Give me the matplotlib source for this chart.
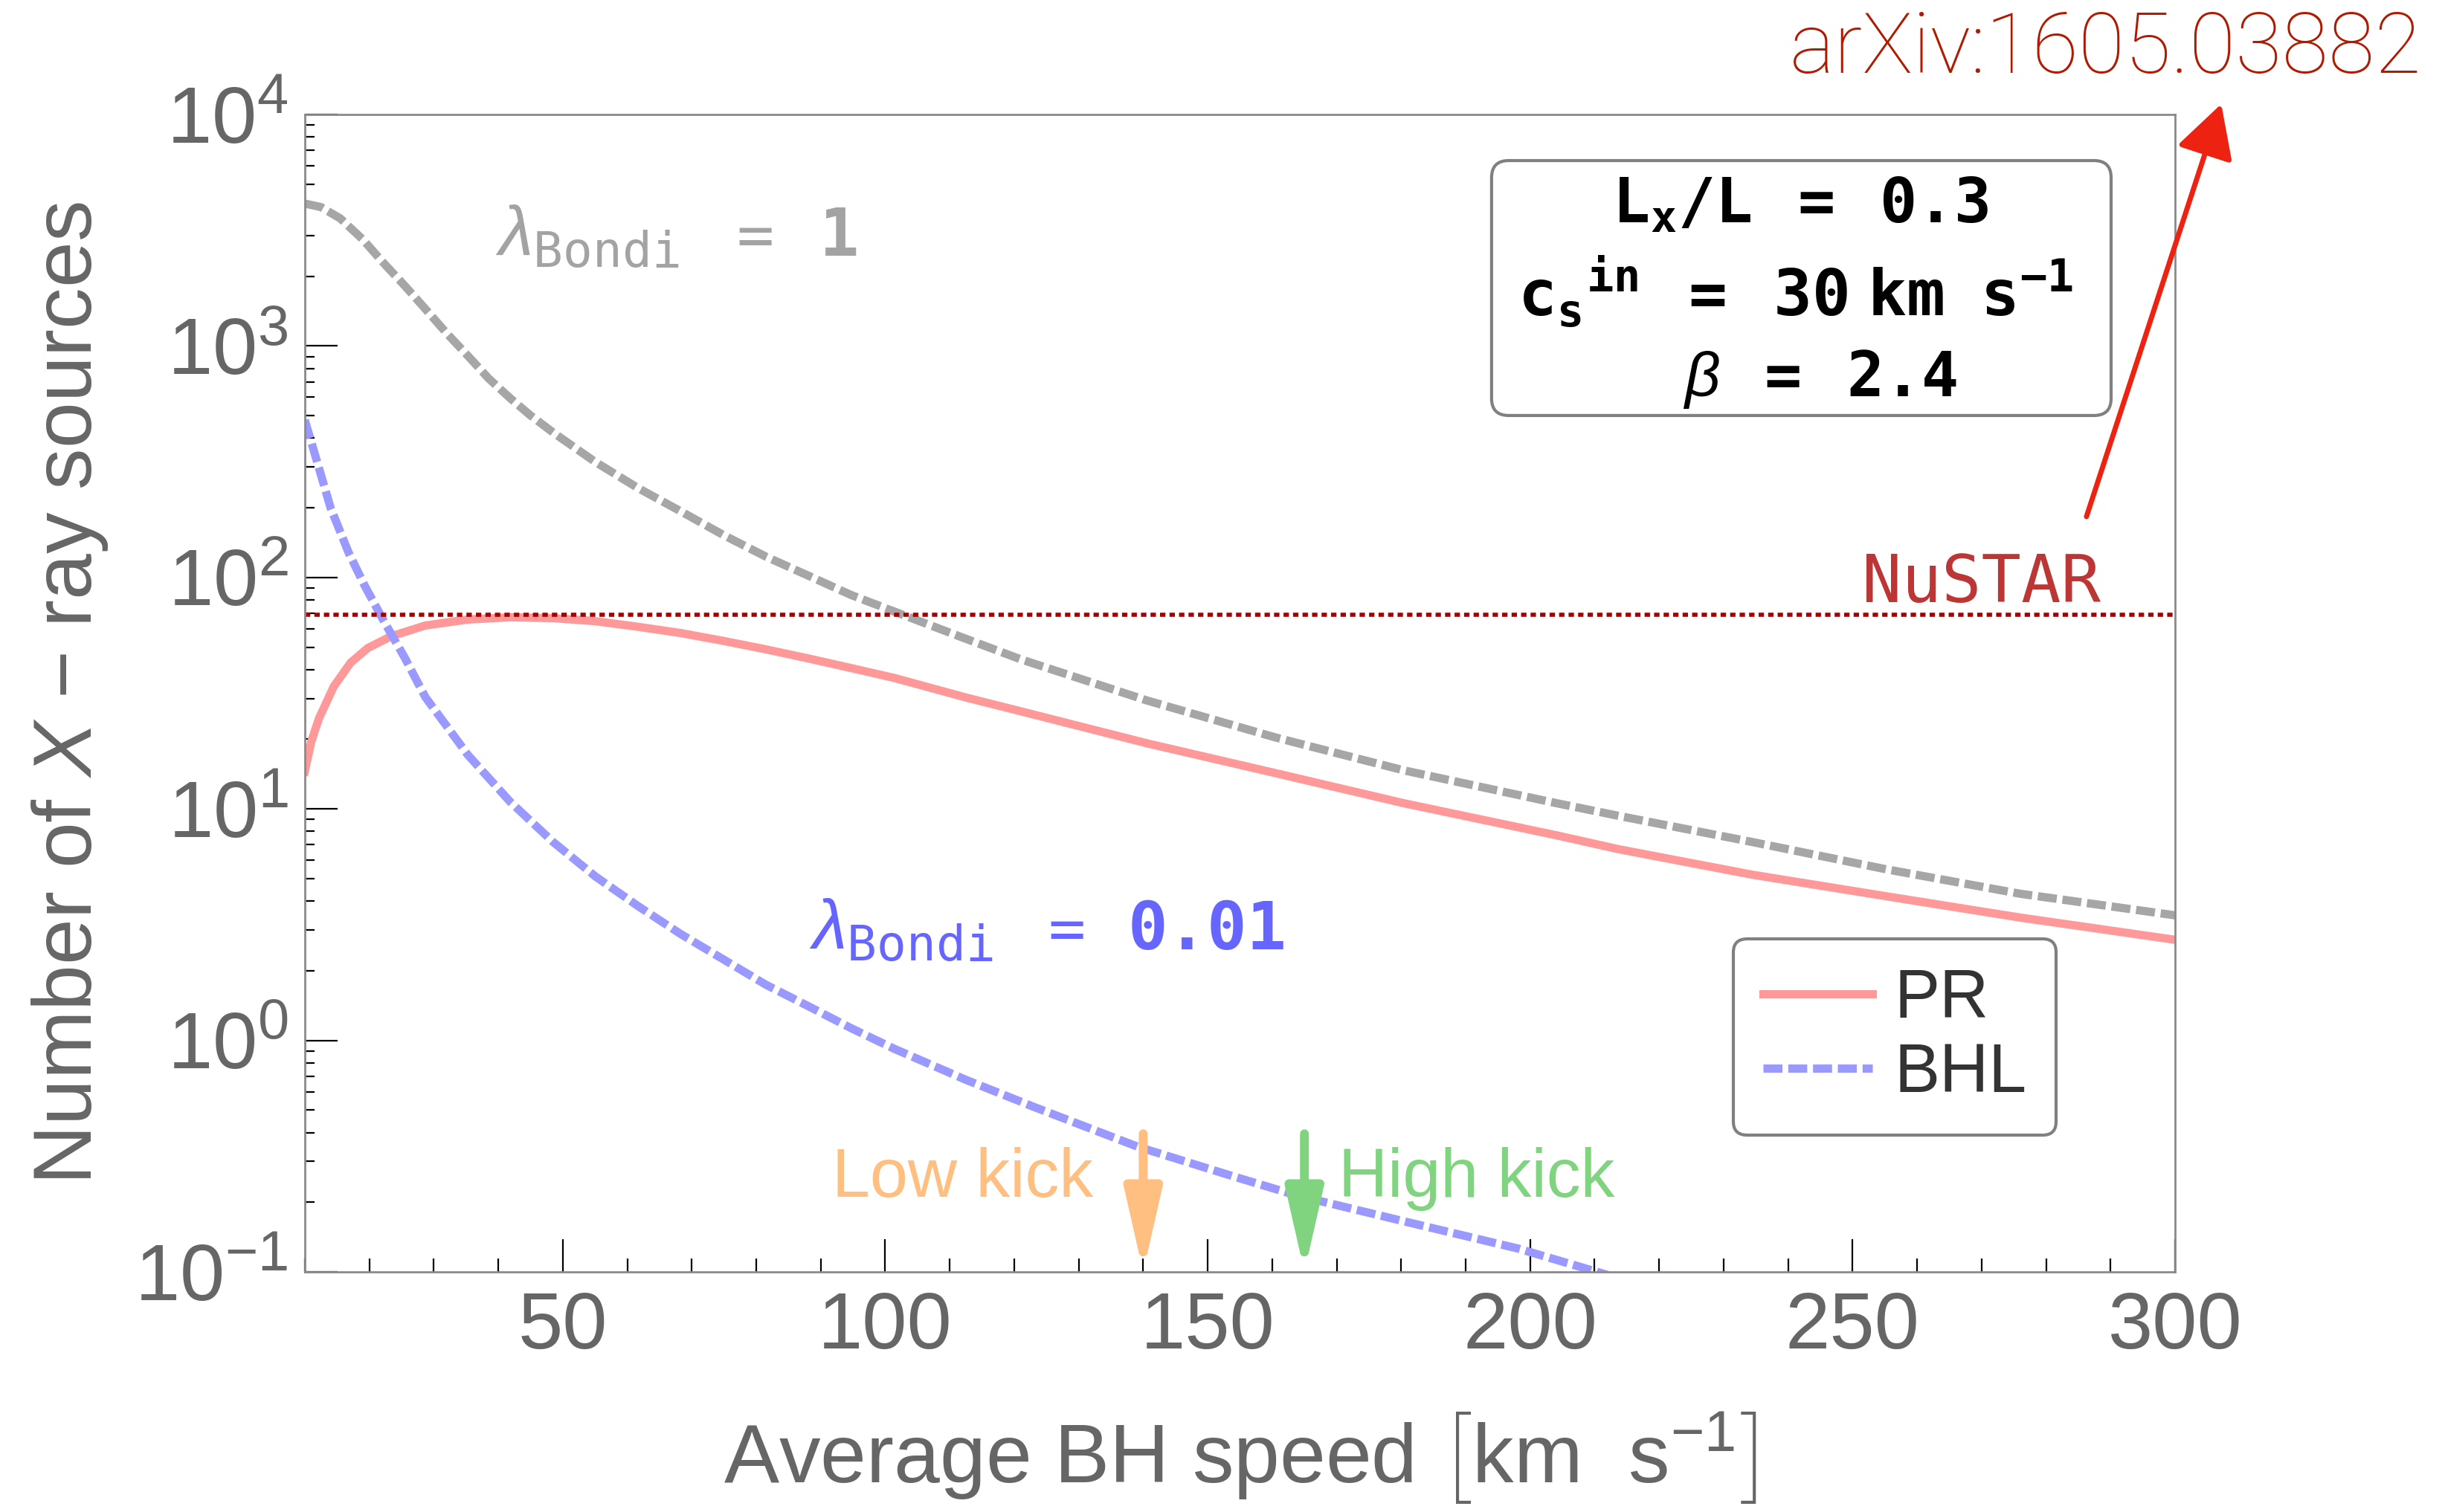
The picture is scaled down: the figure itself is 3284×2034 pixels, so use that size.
import matplotlib
matplotlib.use('Agg')
import matplotlib.pyplot as plt
from matplotlib.patches import FancyBboxPatch, FancyArrowPatch
from matplotlib.ticker import MultipleLocator, LogLocator, NullFormatter

plt.rcParams['font.family'] = ['Liberation Sans', 'DejaVu Sans']
plt.rcParams['mathtext.fontset'] = 'custom'
plt.rcParams['mathtext.rm'] = 'Liberation Sans'
plt.rcParams['mathtext.it'] = 'Liberation Sans:italic'
plt.rcParams['mathtext.bf'] = 'DejaVu Sans Mono:bold'
plt.rcParams['mathtext.tt'] = 'DejaVu Sans Mono'
plt.rcParams['mathtext.sf'] = 'DejaVu Sans'

# values: average BH speed [km/s] vs number of X-ray sources
v_pr = [10, 11, 12.2, 14.5, 17.1, 19.8, 23.4, 28.7, 35.3, 41.9, 48.5, 55.1, 61.7, 68.3,
        74.9, 81.5, 88.2, 94.7, 101.4, 112.5, 120.8, 140.6, 160.4, 180.3, 204, 213.7,
        234.4, 255.1, 275.8, 300]
n_pr = [14.5, 19.5, 24.6, 33.8, 42.8, 49.6, 55.7, 62, 65.8, 67.3, 66.7, 64.7, 61.2, 57.5,
        53.2, 48.9, 44.6, 40.6, 36.8, 30.3, 26.5, 19.2, 14.3, 10.6, 7.7, 6.7,
        5.2, 4.2, 3.4, 2.72]

v_bhl = [10, 12, 14, 16.8, 19.3, 22.1, 23.4, 25.5, 28.7, 35.3, 41.9, 48.5, 55.1, 61.7,
         68.3, 74.9, 81.5, 88.2, 94.7, 101.4, 112.5, 123.3, 139.2, 154.1, 163.8, 180.6,
         198.2, 212]
n_bhl = [479, 310, 200, 128, 92, 66, 57, 45, 30.4, 17.1, 10.7, 7.2, 5.1, 3.8,
         2.88, 2.24, 1.74, 1.40, 1.13, 0.92, 0.676, 0.513, 0.347, 0.258, 0.214, 0.165,
         0.126, 0.097]

v_b1 = [10, 12.5, 15.5, 19, 22, 25.5, 28.7, 32, 35.3, 38.5, 41.9, 45, 48.5, 55, 61.7,
        68.3, 75, 81.5, 88, 94.7, 102.7, 112, 121, 140.6, 160.4, 180.3, 204, 214,
        234.4, 255, 276, 300]
n_b1 = [4121, 3981, 3556, 2884, 2317, 1820, 1445, 1135, 906, 724, 593, 501, 423, 316, 243,
        193, 152, 123, 102, 84, 69, 55, 44.3, 29.4, 20.4, 14.7, 10.6, 9.3,
        7.2, 5.5, 4.3, 3.47]

nustar = 69
low_kick = 140
high_kick = 165
kick_top = 0.395

fig = plt.figure(figsize=(16.42, 10.17), dpi=200)
ax = fig.add_subplot(111)
fig.subplots_adjust(left=0.1248, right=0.8907, bottom=0.1588, top=0.9243)

dash = (0, (2.3, 0.7))
ax.plot(v_b1, n_b1, color='#a6a6a6', lw=4.0, ls=dash)
ax.plot(v_pr, n_pr, color='#ff9999', lw=4.0, label='PR')
ax.plot(v_bhl, n_bhl, color='#9999ff', lw=4.0, ls=dash, label='BHL')
ax.axhline(nustar, color='#a50000', lw=2.0, ls=(0, (1.3, 1.0)))

ax.set_yscale('log')
ax.set_xlim(10, 300)
ax.set_ylim(0.1, 1e4)

ax.xaxis.set_major_locator(MultipleLocator(50))
ax.xaxis.set_minor_locator(MultipleLocator(10))
ax.yaxis.set_major_locator(LogLocator(base=10, numticks=10))
ax.yaxis.set_minor_locator(LogLocator(base=10, subs=range(2, 10), numticks=20))
ax.yaxis.set_minor_formatter(NullFormatter())

ax.tick_params(which='both', direction='in', top=False, right=False, color='k',
               labelcolor='#666666', labelsize=39)
ax.tick_params(axis='x', which='major', length=15.8, width=0.8, pad=9)
ax.tick_params(axis='x', which='minor', length=6.5, width=0.8)
ax.tick_params(axis='y', which='major', length=15.8, width=0.8, pad=8)
ax.tick_params(axis='y', which='minor', length=4.7, width=0.8)
for sp in ax.spines.values():
    sp.set_color('#8a8a8a')
    sp.set_linewidth(1.0)

ax.set_xlabel(r'Average BH speed $\left[\mathrm{km\ \ s}^{-1}_{\,}\right]$', fontsize=40,
              color='#666666', labelpad=22)
ax.set_ylabel(r'Number of $\mathit{X}$ $-$ ray sources', fontsize=40, color='#666666',
              labelpad=12)

# curve labels: lambda_Bondi, "=" and the value as separate pieces
mono = 'DejaVu Sans Mono'
for x0, xe, xv, y, val, col in [(39.5, 76.9, 89.8, 2455, '1', '#a3a3a3'),
                                (88.2, 125.2, 137.6, 2.48, '0.01', '#6666ff')]:
    ax.text(x0, y, r'$\lambda_{\mathtt{Bondi}}$', color=col, fontsize=34,
            ha='left', va='baseline')
    ax.text(xe, y, '=', family=mono, color=col, fontsize=30, ha='left', va='baseline')
    ax.text(xv, y, val, family=mono, weight='bold', color=col, fontsize=32,
            ha='left', va='baseline')
ax.text(251.5, 78, 'NuSTAR', family=mono, color='#bd3636', fontsize=32,
        ha='left', va='baseline')

# kick arrows
for v, col in [(low_kick, '#ffbf80'), (high_kick, '#80d480')]:
    ax.annotate('', xy=(v, 0.1), xytext=(v, kick_top),
                arrowprops=dict(arrowstyle='-|>,head_length=33,head_width=7.5',
                                mutation_scale=1, lw=4.3, color=col,
                                shrinkA=0, shrinkB=0))
ax.text(132.3, 0.211, 'Low kick', color='#ffbf80', fontsize=33, ha='right', va='baseline')
ax.text(170.3, 0.211, 'High kick', color='#80d480', fontsize=33, ha='left', va='baseline')

leg = ax.legend(loc='upper left', bbox_to_anchor=(0.764, 0.288), fontsize=33,
                frameon=True, fancybox=True, edgecolor='#808080', framealpha=1,
                handlelength=1.6, handletextpad=0.33, borderpad=0.43,
                labelspacing=0.15, borderaxespad=0, labelcolor='#333333')
leg.get_frame().set_linewidth(1.5)

# parameter box
box = FancyBboxPatch((0.6108, 0.7252), 0.2537, 0.1686, transform=fig.transFigure,
                     boxstyle='round,pad=0,rounding_size=0.007', mutation_aspect=3284 / 2034,
                     facecolor='white', edgecolor='#808080', lw=1.5)
fig.add_artist(box)
cx = 0.7372
fig.text(cx, 0.853, r'$\mathbf{L_{x}/L\ \ =\ \ 0.3}$', fontsize=30, ha='center', va='baseline')
fig.text(cx - 0.002, 0.7907, r'$\mathbf{{c_{s}}^{in}\ \ =\ \ 30\ km\ \ s^{-1}}$', fontsize=31,
         ha='center', va='baseline')
fig.text(cx + 0.008, 0.7382, r'$\beta\ \ \mathbf{=\ \ 2.4}$', fontsize=30, ha='center',
         va='baseline')

# reference
fig.text(0.9918, 0.9518, 'arXiv:1605.03882', fontsize=41, color='#b01a00',
         family=['Roboto', 'Liberation Sans'], weight='light', ha='right', va='baseline')
fig.add_artist(FancyArrowPatch((0.8544, 0.6583), (0.9096, 0.9312), transform=fig.transFigure,
                               arrowstyle='-|>,head_length=22,head_width=12', mutation_scale=1,
                               lw=2.5, color='#ee2211', shrinkA=0, shrinkB=0))

fig.savefig('out.png', dpi=200, facecolor='white')
